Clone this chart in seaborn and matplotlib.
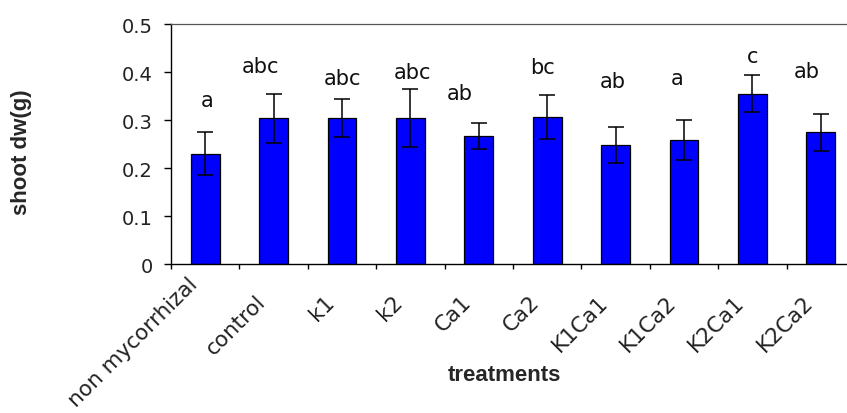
import numpy as np
import pandas as pd
import matplotlib
matplotlib.use('Agg')
import matplotlib.pyplot as plt
import matplotlib.transforms as mtransforms
import seaborn as sns

# data
treatments = ['non mycorrhizal', 'control', 'k1', 'k2', 'Ca1', 'Ca2',
              'K1Ca1', 'K1Ca2', 'K2Ca1', 'K2Ca2']
shoot_dw = [0.230, 0.304, 0.304, 0.304, 0.267, 0.307, 0.248, 0.258, 0.355, 0.274]
std_err = [0.045, 0.051, 0.039, 0.061, 0.027, 0.046, 0.037, 0.041, 0.039, 0.039]
letters = ['a', 'abc', 'abc', 'abc', 'ab', 'bc', 'ab', 'a', 'c', 'ab']
y_ticks = [0, 0.1, 0.2, 0.3, 0.4, 0.5]
y_tick_labels = ['0', '0.1', '0.2', '0.3', '0.4', '0.5']

# where the significance letters sit (baseline in data units, sideways nudge in bar slots)
letter_y = [0.330, 0.401, 0.375, 0.387, 0.344, 0.398, 0.368, 0.375, 0.420, 0.390]
letter_dx = [0.03, -0.19, 0.0, 0.03, -0.28, -0.07, -0.04, -0.10, 0.0, -0.20]

sns.set_theme(style='ticks')
plt.rcParams['font.family'] = ['DejaVu Sans']

df = pd.DataFrame({'treatment': treatments, 'shoot_dw': shoot_dw})

fig = plt.figure(figsize=(8.47, 4.14), dpi=100)
fig.patch.set_facecolor('white')
ax = fig.add_axes([0.2019, 0.3599, 0.8076, 0.5797])
ax.set_facecolor('white')

sns.barplot(data=df, x='treatment', y='shoot_dw', color='#0000ff', saturation=1,
            width=0.42, edgecolor='black', linewidth=0.9, errorbar=None, ax=ax)

x = np.arange(len(treatments))
ax.errorbar(x, shoot_dw, yerr=std_err, fmt='none', ecolor='black',
            elinewidth=1.1, capsize=6, capthick=1.1)

for i, (lab, ly, dx) in enumerate(zip(letters, letter_y, letter_dx)):
    ax.text(i + dx, ly, lab, ha='center', va='baseline', fontsize=15, color='#111111')

ax.set_xlim(-0.5, len(treatments) - 0.5)
ax.set_ylim(0, 0.5)
ax.set_yticks(y_ticks)
ax.set_yticklabels(y_tick_labels, fontsize=14, color='#222222')
ax.tick_params(axis='y', length=5, width=1.0, pad=8, direction='out', color='black')

# Excel-style: ticks between categories, labels hanging off the ticks
ax.set_xticks(x - 0.5)
ax.set_xticklabels(treatments, rotation=45, ha='right', va='center',
                   rotation_mode='anchor', fontsize=15.5, color='#222222')
ax.tick_params(axis='x', length=3.6, width=1.0, pad=21, direction='out', color='black')
for i, t in enumerate(ax.get_xticklabels()):
    dy = 0.18 if i == 0 else 0.0
    t.set_transform(t.get_transform() +
                    mtransforms.ScaledTranslation(0.23, dy, fig.dpi_scale_trans))

for side in ['left', 'bottom']:
    ax.spines[side].set_color('black')
    ax.spines[side].set_linewidth(1.0)
ax.spines['top'].set_color('#555555')
ax.spines['top'].set_linewidth(0.9)
ax.spines['right'].set_color('#555555')

ax.set_xlabel('treatments', fontsize=16, fontweight='bold',
              family='Liberation Sans', va='center')
ax.xaxis.set_label_coords(0.487, -0.4625)
ax.set_ylabel('shoot dw(g)', fontsize=16, fontweight='bold',
              family='Liberation Sans', va='center', ha='center')
ax.yaxis.set_label_coords(-0.218, 0.472)

fig.savefig('out.png', dpi=100, facecolor='white')
